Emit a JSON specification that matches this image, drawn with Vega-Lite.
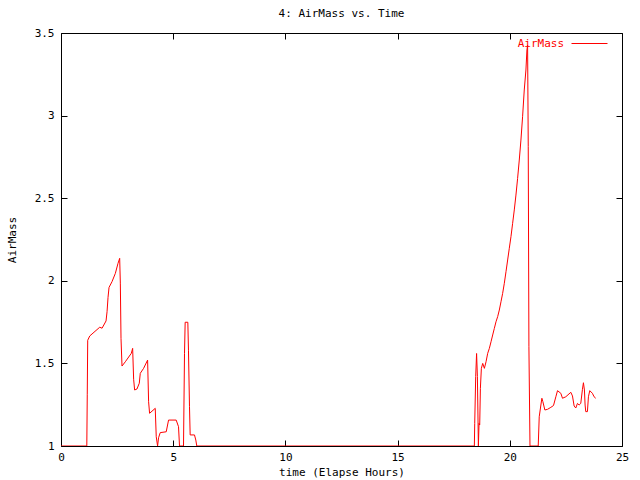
{
  "$schema": "https://vega.github.io/schema/vega-lite/v6.json",
  "autosize": "none",
  "width": 561,
  "height": 413,
  "padding": {"left": 61, "top": 33, "right": 18, "bottom": 34},
  "background": "white",
  "title": {"text": "4: AirMass vs. Time", "font": "DejaVu Sans Mono", "fontSize": 11, "fontWeight": "normal", "color": "black", "offset": 6, "anchor": "middle"},
  "config": {
    "view": {"stroke": "black", "strokeWidth": 1},
    "axis": {"labelFont": "DejaVu Sans Mono", "labelFontSize": 11, "labelColor": "black", "titleFont": "DejaVu Sans Mono", "titleFontSize": 11, "titleFontWeight": "normal", "titleColor": "black", "grid": false, "domain": false, "tickColor": "black", "tickSize": -6}
  },
  "data": {"values": [
    {"t": 0, "am": 1.0}, {"t": 1.15, "am": 1.0}, {"t": 1.17, "am": 1.31}, {"t": 1.19, "am": 1.64},
    {"t": 1.281, "am": 1.666}, {"t": 1.726, "am": 1.719}, {"t": 1.83, "am": 1.713}, {"t": 2.007, "am": 1.757},
    {"t": 2.052, "am": 1.813}, {"t": 2.096, "am": 1.9}, {"t": 2.141, "am": 1.96}, {"t": 2.274, "am": 1.995},
    {"t": 2.422, "am": 2.045}, {"t": 2.541, "am": 2.106}, {"t": 2.615, "am": 2.136}, {"t": 2.644, "am": 1.986},
    {"t": 2.674, "am": 1.652}, {"t": 2.719, "am": 1.484}, {"t": 2.867, "am": 1.51}, {"t": 3.133, "am": 1.561},
    {"t": 3.193, "am": 1.591}, {"t": 3.237, "am": 1.404}, {"t": 3.281, "am": 1.339}, {"t": 3.385, "am": 1.345},
    {"t": 3.489, "am": 1.38}, {"t": 3.533, "am": 1.44}, {"t": 3.681, "am": 1.47}, {"t": 3.859, "am": 1.52},
    {"t": 3.904, "am": 1.268}, {"t": 3.948, "am": 1.198}, {"t": 4.2, "am": 1.228}, {"t": 4.244, "am": 1.056},
    {"t": 4.304, "am": 1.0}, {"t": 4.348, "am": 1.05}, {"t": 4.422, "am": 1.081}, {"t": 4.689, "am": 1.086},
    {"t": 4.793, "am": 1.157}, {"t": 5.133, "am": 1.157}, {"t": 5.237, "am": 1.117}, {"t": 5.281, "am": 1.0},
    {"t": 5.459, "am": 1.0}, {"t": 5.504, "am": 1.561}, {"t": 5.533, "am": 1.749}, {"t": 5.652, "am": 1.749},
    {"t": 5.681, "am": 1.58}, {"t": 5.726, "am": 1.238}, {"t": 5.756, "am": 1.067}, {"t": 5.948, "am": 1.067},
    {"t": 6.007, "am": 1.036}, {"t": 6.052, "am": 1.0}, {"t": 18.42, "am": 1.0}, {"t": 18.437, "am": 1.137},
    {"t": 18.48, "am": 1.42}, {"t": 18.52, "am": 1.56}, {"t": 18.556, "am": 1.42}, {"t": 18.6, "am": 1.0},
    {"t": 18.63, "am": 1.137}, {"t": 18.659, "am": 1.127}, {"t": 18.689, "am": 1.349}, {"t": 18.733, "am": 1.47},
    {"t": 18.793, "am": 1.5}, {"t": 18.867, "am": 1.47}, {"t": 18.941, "am": 1.51}, {"t": 19.015, "am": 1.561},
    {"t": 19.089, "am": 1.591}, {"t": 19.163, "am": 1.631}, {"t": 19.237, "am": 1.672}, {"t": 19.311, "am": 1.712},
    {"t": 19.385, "am": 1.752}, {"t": 19.459, "am": 1.783}, {"t": 19.533, "am": 1.823}, {"t": 19.607, "am": 1.873},
    {"t": 19.681, "am": 1.924}, {"t": 19.756, "am": 1.985}, {"t": 19.83, "am": 2.055}, {"t": 19.904, "am": 2.126},
    {"t": 19.978, "am": 2.197}, {"t": 20.052, "am": 2.267}, {"t": 20.126, "am": 2.348}, {"t": 20.2, "am": 2.429},
    {"t": 20.274, "am": 2.519}, {"t": 20.348, "am": 2.62}, {"t": 20.422, "am": 2.731}, {"t": 20.496, "am": 2.852},
    {"t": 20.57, "am": 2.993}, {"t": 20.644, "am": 3.155}, {"t": 20.719, "am": 3.276}, {"t": 20.763, "am": 3.397},
    {"t": 20.793, "am": 3.427}, {"t": 20.822, "am": 2.812}, {"t": 20.852, "am": 1.601}, {"t": 20.9, "am": 1.0},
    {"t": 21.267, "am": 1.0}, {"t": 21.311, "am": 1.177}, {"t": 21.385, "am": 1.248}, {"t": 21.43, "am": 1.289},
    {"t": 21.474, "am": 1.268}, {"t": 21.563, "am": 1.218}, {"t": 21.681, "am": 1.222}, {"t": 21.83, "am": 1.234},
    {"t": 21.948, "am": 1.245}, {"t": 22.052, "am": 1.298}, {"t": 22.126, "am": 1.335}, {"t": 22.274, "am": 1.319},
    {"t": 22.348, "am": 1.289}, {"t": 22.496, "am": 1.298}, {"t": 22.719, "am": 1.325}, {"t": 22.793, "am": 1.303},
    {"t": 22.867, "am": 1.242}, {"t": 22.941, "am": 1.23}, {"t": 23.015, "am": 1.258}, {"t": 23.089, "am": 1.248},
    {"t": 23.163, "am": 1.258}, {"t": 23.237, "am": 1.343}, {"t": 23.281, "am": 1.383}, {"t": 23.326, "am": 1.339},
    {"t": 23.356, "am": 1.248}, {"t": 23.385, "am": 1.208}, {"t": 23.459, "am": 1.208}, {"t": 23.504, "am": 1.298},
    {"t": 23.563, "am": 1.335}, {"t": 23.681, "am": 1.319}, {"t": 23.756, "am": 1.298}, {"t": 23.83, "am": 1.289}
  ]},
  "layer": [
    {
      "mark": {"type": "line", "strokeWidth": 1, "interpolate": "linear", "clip": true},
      "encoding": {
        "x": {"field": "t", "type": "quantitative", "scale": {"domain": [0, 25], "nice": false, "zero": false},
              "axis": {"orient": "bottom", "values": [0, 5, 10, 15, 20, 25], "title": "time (Elapse Hours)", "labelPadding": 11, "titlePadding": 4, "labelFlush": false}},
        "y": {"field": "am", "type": "quantitative", "scale": {"domain": [1, 3.5], "nice": false, "zero": false},
              "axis": {"orient": "left", "values": [1, 1.5, 2, 2.5, 3, 3.5], "format": "~g", "title": "AirMass", "labelPadding": 13, "titlePadding": 17}},
        "color": {"datum": "AirMass", "type": "nominal", "scale": {"domain": ["AirMass"], "range": ["#ff0000"]},
                  "legend": {"orient": "none", "legendX": 510, "legendY": -8, "title": null, "symbolType": "stroke", "symbolSize": 1296, "symbolStrokeWidth": 1, "labelFont": "DejaVu Sans Mono", "labelFontSize": 11, "labelColor": "#ff0000", "labelAlign": "right", "labelOffset": -44, "padding": 0}}
      }
    },
    {
      "mark": {"type": "line", "strokeOpacity": 0},
      "encoding": {
        "x": {"field": "t", "type": "quantitative", "axis": {"orient": "top", "values": [0, 5, 10, 15, 20, 25], "labels": false, "title": null}},
        "y": {"field": "am", "type": "quantitative", "axis": {"orient": "right", "values": [1, 1.5, 2, 2.5, 3, 3.5], "labels": false, "title": null}}
      }
    }
  ],
  "resolve": {"axis": {"x": "independent", "y": "independent"}}
}
